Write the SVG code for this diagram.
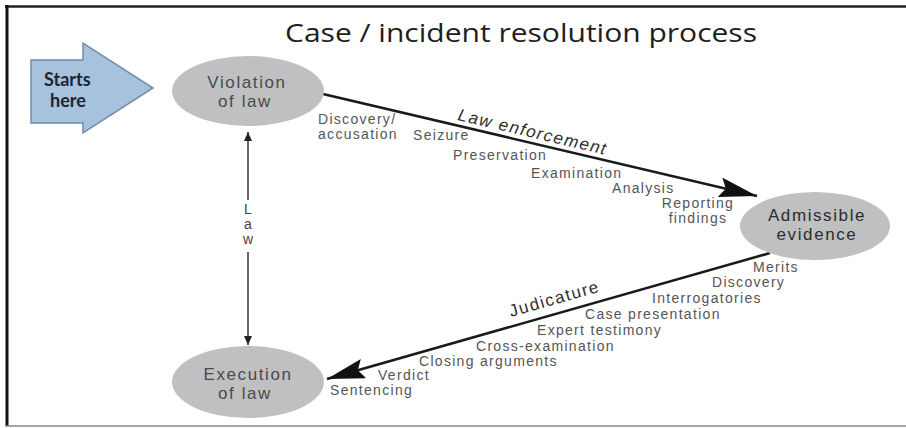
<svg xmlns="http://www.w3.org/2000/svg" width="906" height="428" viewBox="0 0 906 428">
  <style>
    .title { font-family: "Open Sans", Lato, sans-serif; font-size: 25px; fill: #1e1e1e; }
    .start { font-family: Lato, "Liberation Sans", sans-serif; font-size: 18px; font-weight: bold; fill: #1d2633; }
    .node { fill: #bfc0c2; }
    .nlabel { font-family: "Liberation Sans", Arial, sans-serif; font-size: 17px; letter-spacing: 1.6px; fill: #4a4a4a; text-anchor: middle; }
    .nlabel.dark { fill: #2c2c2c; }
    .step { font-family: "Liberation Sans", Arial, sans-serif; font-size: 14px; letter-spacing: 1.3px; fill: #555; }
    .phase { font-family: "Liberation Sans", Arial, sans-serif; font-size: 17px; letter-spacing: 1.5px; fill: #2e2e2e; }
    .law { font-family: "Liberation Sans", Arial, sans-serif; font-size: 14px; fill: #444; text-anchor: middle; }
    .flow { stroke: #1a1a1a; stroke-width: 2.6; fill: none; }
    .thin { stroke: #333; stroke-width: 1.5; fill: none; }
  </style>
  <defs>
    <marker id="bigHead" markerUnits="userSpaceOnUse" markerWidth="40" markerHeight="22" refX="38" refY="10" orient="auto">
      <polygon points="0,0 38,10 0,20 6,10" fill="#111"/>
    </marker>
    <marker id="smallHead" markerUnits="userSpaceOnUse" markerWidth="10" markerHeight="8" refX="9" refY="4" orient="auto">
      <polygon points="0,0 9,4 0,8" fill="#222"/>
    </marker>
  </defs>

  <!-- frame -->
  <rect x="0" y="0" width="906" height="428" fill="#fff"/>
  <line x1="5" y1="6.5" x2="906" y2="6.5" stroke="#222" stroke-width="2.5"/>
  <line x1="7" y1="5" x2="7" y2="426" stroke="#111" stroke-width="3"/>
  <line x1="5" y1="426" x2="906" y2="426" stroke="#888" stroke-width="1.5"/>

  <text class="title" x="521" y="42" text-anchor="middle" textLength="472" lengthAdjust="spacingAndGlyphs">Case / incident resolution process</text>

  <!-- entry marker -->
  <g id="starts-here">
    <polygon points="31,60 83,60 83,43 153,88 83,133 83,123 31,123" fill="#a6c2dc" stroke="#6f8daa" stroke-width="1.5"/>
    <text class="start" x="44" y="86">Starts</text>
    <text class="start" x="50" y="107">here</text>
  </g>

  <!-- connectors -->
  <g id="connectors">
    <line class="flow" x1="323" y1="94" x2="757" y2="196" marker-end="url(#bigHead)"/>
    <line class="flow" x1="770" y1="253" x2="327" y2="379" marker-end="url(#bigHead)"/>
    <line class="thin" x1="248" y1="200" x2="248" y2="132" marker-end="url(#smallHead)"/>
    <line class="thin" x1="248" y1="252" x2="248" y2="345" marker-end="url(#smallHead)"/>
    <text class="law" x="248" y="214">L</text>
    <text class="law" x="248" y="229">a</text>
    <text class="law" x="248" y="244">w</text>
    <text class="phase" font-style="italic" transform="translate(457,120) rotate(13.2)">Law enforcement</text>
    <text class="phase" transform="translate(511,317) rotate(-15.9)">Judicature</text>
  </g>

  <!-- nodes -->
  <g id="violation">
    <ellipse class="node" cx="248" cy="91" rx="76" ry="35"/>
    <text class="nlabel" x="247" y="88">Violation</text>
    <text class="nlabel" x="245" y="107">of law</text>
  </g>
  <g id="admissible">
    <ellipse class="node" cx="815" cy="226" rx="75" ry="34"/>
    <text class="nlabel dark" x="817" y="221">Admissible</text>
    <text class="nlabel dark" x="817" y="240">evidence</text>
  </g>
  <g id="execution">
    <ellipse class="node" cx="248" cy="382" rx="76" ry="36"/>
    <text class="nlabel" x="248" y="380">Execution</text>
    <text class="nlabel" x="245" y="399">of law</text>
  </g>

  <!-- enforcement steps -->
  <g id="enforcement-steps">
    <text class="step" x="318" y="124">Discovery/</text>
    <text class="step" x="318" y="139">accusation</text>
    <text class="step" x="413" y="140">Seizure</text>
    <text class="step" x="453" y="160">Preservation</text>
    <text class="step" x="531" y="178">Examination</text>
    <text class="step" x="612" y="193">Analysis</text>
    <text class="step" x="698" y="208" text-anchor="middle">Reporting</text>
    <text class="step" x="698" y="223" text-anchor="middle">findings</text>
  </g>

  <!-- judicature steps -->
  <g id="judicature-steps">
    <text class="step" x="753" y="272">Merits</text>
    <text class="step" x="712" y="287">Discovery</text>
    <text class="step" x="652" y="303">Interrogatories</text>
    <text class="step" x="585" y="319">Case presentation</text>
    <text class="step" x="537" y="335">Expert testimony</text>
    <text class="step" x="476" y="351">Cross-examination</text>
    <text class="step" x="419" y="366">Closing arguments</text>
    <text class="step" x="378" y="380">Verdict</text>
    <text class="step" x="330" y="395">Sentencing</text>
  </g>
</svg>
